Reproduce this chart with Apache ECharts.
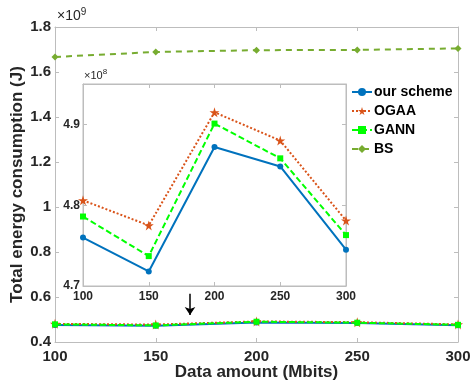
<!DOCTYPE html>
<html>
<head>
<meta charset="utf-8">
<script src="https://cdn.jsdelivr.net/npm/echarts@6/dist/echarts.min.js"></script>
<style>
  html, body { margin: 0; padding: 0; background: #fff; }
  #chart { width: 470px; height: 384px; }
</style>
</head>
<body>
<div id="chart"></div>
<script>
// data amount (Mbits)
const dataAmount = [100, 150, 200, 250, 300];
// total energy consumption (J)
const ourScheme = [4.760e8, 4.718e8, 4.872e8, 4.848e8, 4.745e8];
const ogaa = [4.806e8, 4.775e8, 4.915e8, 4.880e8, 4.781e8];
const gann = [4.786e8, 4.737e8, 4.901e8, 4.858e8, 4.763e8];
const bs = [1.667e9, 1.689e9, 1.697e9, 1.698e9, 1.705e9];
// arrow pointing at the zoomed region (x, y start, y end)
const arrowX = 167;
const arrowY = [0.615e9, 0.52e9];

const FONT = 'Liberation Sans';
const BOX = '#bdbdbd';
const TXT = '#262626';
const STAR = 'path://M50,0 L61,35 L98,35 L68,57 L79,91 L50,70 L21,91 L32,57 L2,35 L39,35 Z';

const pairs = (vals) => dataAmount.map((x, i) => [x, vals[i]]);

const chartDom = document.getElementById('chart');
const Chart = echarts.init(chartDom);

const boxAxis = (extra) => Object.assign({
    axisLine: { show: true, lineStyle: { color: BOX, width: 1 } },
    axisTick: { show: true, inside: true, length: 4, lineStyle: { color: BOX } },
    axisLabel: { show: false },
    splitLine: { show: false }
}, extra);

const styles = {
    'our scheme': { color: '#0072BD', type: 'solid', symbol: 'circle', size: 6 },
    'OGAA': { color: '#D95319', type: [2, 2], symbol: STAR, size: 10 },
    'GANN': { color: '#00FF00', type: [6, 3], symbol: 'rect', size: 6 },
    'BS': { color: '#77AC30', type: [6, 5], symbol: 'diamond', size: 7 }
};

const makeSeries = (name, vals, axisIdx, extra) => {
    const s = styles[name];
    return Object.assign({
        name: name,
        type: 'line',
        xAxisIndex: axisIdx,
        yAxisIndex: axisIdx,
        data: pairs(vals),
        symbol: s.symbol,
        symbolSize: s.size,
        showSymbol: true,
        itemStyle: { color: s.color },
        lineStyle: { color: s.color, width: 2, type: s.type },
        animation: false
    }, extra || {});
};

const option = {
    backgroundColor: '#fff',
    textStyle: { fontFamily: FONT },
    grid: [
        { left: 55, top: 27, width: 403, height: 315, show: false, outerBoundsMode: 'none', containLabel: false },
        { left: 83, top: 84, width: 263, height: 202, show: true, backgroundColor: '#fff', borderColor: BOX, borderWidth: 1, z: 3, outerBoundsMode: 'none', containLabel: false }
    ],
    xAxis: [
        boxAxis({
            type: 'value', gridIndex: 0, position: 'bottom', min: 100, max: 300, interval: 50,
            name: 'Data amount (Mbits)', nameLocation: 'middle', nameGap: 22, nameMoveOverlap: false,
            nameTextStyle: { fontFamily: FONT, fontWeight: 'bold', fontSize: 17, color: TXT, verticalAlign: 'top' },
            axisLabel: { show: true, fontFamily: FONT, fontWeight: 'bold', fontSize: 15, color: TXT, margin: 7 }
        }),
        boxAxis({ type: 'value', gridIndex: 0, position: 'top', min: 100, max: 300, interval: 50 }),
        boxAxis({
            type: 'value', gridIndex: 1, position: 'bottom', min: 100, max: 300, interval: 50, z: 4,
            axisLabel: { show: true, fontFamily: FONT, fontWeight: 'bold', fontSize: 12, color: TXT, margin: 5 }
        }),
        boxAxis({ type: 'value', gridIndex: 1, position: 'top', min: 100, max: 300, interval: 50, z: 4 })
    ],
    yAxis: [
        boxAxis({
            type: 'value', gridIndex: 0, position: 'left', min: 0.4e9, max: 1.8e9, interval: 0.2e9,
            name: 'Total energy consumption (J)', nameLocation: 'middle', nameGap: 29, nameRotate: 90, nameMoveOverlap: false,
            nameTextStyle: { fontFamily: FONT, fontWeight: 'bold', fontSize: 17, color: TXT },
            axisLabel: {
                show: true, fontFamily: FONT, fontWeight: 'bold', fontSize: 15, color: TXT, margin: 4,
                formatter: (v) => String(parseFloat((v / 1e9).toFixed(1)))
            }
        }),
        boxAxis({ type: 'value', gridIndex: 0, position: 'right', min: 0.4e9, max: 1.8e9, interval: 0.2e9 }),
        boxAxis({
            type: 'value', gridIndex: 1, position: 'left', min: 4.7e8, max: 4.95e8, interval: 0.1e8, z: 4,
            axisLabel: {
                show: true, showMaxLabel: false, fontFamily: FONT, fontWeight: 'bold', fontSize: 12, color: TXT, margin: 3,
                formatter: (v) => (v / 1e8).toFixed(1)
            }
        }),
        boxAxis({ type: 'value', gridIndex: 1, position: 'right', min: 4.7e8, max: 4.95e8, interval: 0.1e8, z: 4 })
    ],
    legend: {
        orient: 'vertical',
        left: 351,
        top: 85,
        itemWidth: 20,
        itemHeight: 10,
        itemGap: 5,
        padding: 0,
        data: ['our scheme', 'OGAA', 'GANN', 'BS'],
        textStyle: { fontFamily: FONT, fontWeight: 'bold', fontSize: 14, color: '#000', padding: [0, 0, 0, -3] }
    },
    graphic: [
        {
            type: 'text', left: 57, top: 7, z: 10,
            style: {
                text: '{a|×10}{b|9}',
                rich: {
                    a: { fontFamily: FONT, fontSize: 14, fill: TXT },
                    b: { fontFamily: FONT, fontSize: 10, fill: TXT, padding: [0, 0, 9, 0] }
                }
            }
        },
        {
            type: 'text', left: 84, top: 68, z: 10,
            style: {
                text: '{a|×10}{b|8}',
                rich: {
                    a: { fontFamily: FONT, fontSize: 11, fill: TXT },
                    b: { fontFamily: FONT, fontSize: 8, fill: TXT, padding: [0, 0, 7, 0] }
                }
            }
        }
    ],
    series: [
        makeSeries('our scheme', ourScheme, 0, {
            markLine: {
                silent: true,
                animation: false,
                symbol: ['none', 'arrow'],
                symbolSize: 8,
                label: { show: false },
                lineStyle: { color: '#000', width: 1.5, type: 'solid' },
                data: [[{ coord: [arrowX, arrowY[0]] }, { coord: [arrowX, arrowY[1]] }]]
            }
        }),
        makeSeries('OGAA', ogaa, 0),
        makeSeries('GANN', gann, 0),
        makeSeries('BS', bs, 0),
        makeSeries('our scheme', ourScheme, 2, { z: 5 }),
        makeSeries('OGAA', ogaa, 2, { z: 5 }),
        makeSeries('GANN', gann, 2, { z: 5 })
    ]
};

option && Chart.setOption(option);
</script>
</body>
</html>
